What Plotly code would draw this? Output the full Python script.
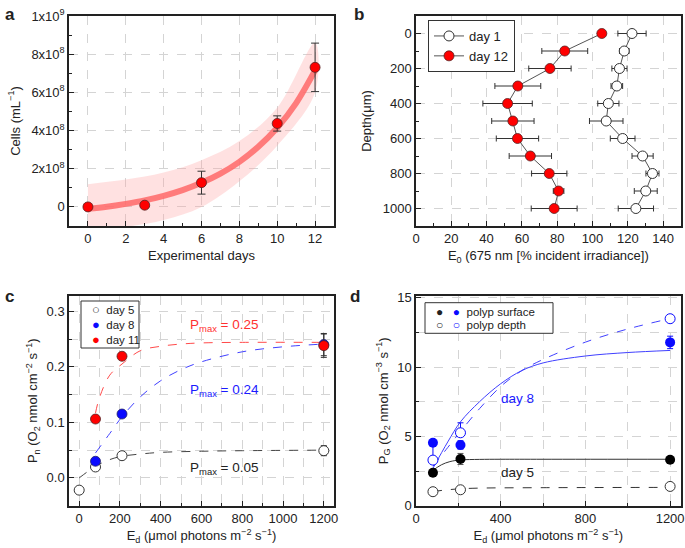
import plotly.graph_objects as go

# ---------------- Panel a data ----------------
a_days = [0, 3, 6, 10, 12]
a_cells = [0.0e8, 0.09e8, 1.27e8, 4.37e8, 7.31e8]
a_err = [0.05e8, 0.1e8, 0.6e8, 0.4e8, 1.27e8]
a_fit_days = [0, 1, 2, 3, 4, 5, 6, 7, 8, 9, 10, 11, 12]
a_fit_cells = [-0.1e8, 0.01e8, 0.16e8, 0.34e8, 0.58e8, 0.88e8, 1.26e8, 1.74e8,
               2.36e8, 3.15e8, 4.15e8, 5.44e8, 7.15e8]
a_band_days = [0, 2, 4, 6, 8, 10, 12]
a_band_upper = [1.19e8, 1.43e8, 1.8e8, 2.45e8, 3.45e8, 5.2e8, 8.6e8]
a_band_lower = [-1.3e8, -1.05e8, -0.68e8, 0.0e8, 1.35e8, 3.2e8, 6.0e8]
a_ytickvals = [0, 2e8, 4e8, 6e8, 8e8, 1e9]
a_yticktext = ["0", "2x10<sup>8</sup>", "4x10<sup>8</sup>", "6x10<sup>8</sup>",
               "8x10<sup>8</sup>", "1x10<sup>9</sup>"]

# ---------------- Panel b data ----------------
b_depth = [0, 100, 200, 300, 400, 500, 600, 700, 800, 900, 1000]
b_day1 = [122.4, 118.0, 115.3, 113.8, 109.0, 107.8, 117.1, 128.4, 134.0, 130.2, 124.6]
b_day1_err = [8.0, 2.7, 4.3, 3.3, 6.0, 9.5, 7.0, 6.0, 3.7, 6.5, 10.0]
b_day12 = [105.3, 84.3, 75.9, 57.7, 51.9, 54.9, 57.5, 64.8, 75.5, 80.8, 78.3]
b_day12_err = [0.5, 13.0, 12.0, 13.0, 14.0, 12.0, 12.0, 12.0, 10.0, 3.0, 13.0]

# ---------------- Panel c data ----------------
c_ed_day5 = [0, 80, 210, 1200]
c_day5 = [-0.022, 0.0197, 0.040, 0.049]
c_day5_err = [0.003, 0.004, 0.004, 0.009]
c_ed = [80, 210, 1200]
c_day8 = [0.030, 0.115, 0.240]
c_day8_err = [0.004, 0.004, 0.020]
c_day11 = [0.106, 0.219, 0.238]
c_day11_err = [0.004, 0.004, 0.021]
c_fit5_x = [0, 40, 80, 150, 210, 300, 400, 600, 800, 1200]
c_fit5_y = [0.0, 0.011, 0.021, 0.033, 0.039, 0.043, 0.046, 0.048, 0.049, 0.050]
c_fit8_x = [80, 150, 210, 300, 400, 500, 600, 800, 1000, 1200]
c_fit8_y = [0.045, 0.080, 0.110, 0.146, 0.175, 0.195, 0.209, 0.227, 0.236, 0.241]
c_fit11_x = [80, 100, 150, 210, 300, 400, 500, 600, 800, 1200]
c_fit11_y = [0.117, 0.145, 0.185, 0.205, 0.229, 0.237, 0.241, 0.243, 0.244, 0.244]
c_legend_names = ["day 5", "day 8", "day 11"]

# ---------------- Panel d data ----------------
d_ed = [80, 210, 1200]
d5_surf = [2.38, 3.37, 3.32]
d5_surf_err = [0.15, 0.4, 0.2]
d5_depth = [1.01, 1.15, 1.39]
d5_depth_err = [0.12, 0.12, 0.12]
d8_surf = [4.54, 4.38, 11.78]
d8_surf_err = [0.2, 0.3, 0.45]
d8_depth = [3.29, 5.26, 13.49]
d8_depth_err_plus = [1.0, 0.72, 0.25]
d8_depth_err_minus = [0.1, 0.1, 0.25]
d_fit5s_x = [80, 120, 160, 210, 300, 400, 600, 1200]
d_fit5s_y = [2.55, 2.95, 3.18, 3.3, 3.34, 3.35, 3.35, 3.35]
d_fit5d_x = [80, 150, 210, 300, 600, 1200]
d_fit5d_y = [1.02, 1.15, 1.22, 1.27, 1.30, 1.32]
d_fit8s_x = [80, 150, 210, 300, 400, 500, 600, 800, 1000, 1200]
d_fit8s_y = [2.7, 4.6, 6.05, 7.5, 8.8, 9.75, 10.3, 10.8, 11.05, 11.2]
d_fit8d_x = [80, 150, 210, 300, 400, 500, 600, 800, 1000, 1200]
d_fit8d_y = [2.85, 4.2, 5.35, 7.0, 8.6, 9.75, 10.55, 11.8, 12.75, 13.5]
d_legend_names = ["polyp surface", "polyp depth"]

FONT = "Liberation Sans, Arial, Helvetica, sans-serif"
DARK = "#333333"
GRID = "#d4d4d4"
RED = "#ff0000"
BLUE = "#0a0aff"
W, H = 685, 548


def px_x(p):
    return p / W


def px_y(p):
    return 1 - p / H


def err(vals, color=DARK, width=3, minus=None):
    d = dict(type="data", array=vals, color=color, thickness=1, width=width, visible=True)
    if minus is not None:
        d["symmetric"] = False
        d["arrayminus"] = minus
    return d


fig = go.Figure()

# ---- Panel a ----
fig.add_trace(go.Scatter(x=a_band_days + a_band_days[::-1],
                         y=a_band_upper + a_band_lower[::-1],
                         fill="toself", fillcolor="rgba(255,165,165,0.33)",
                         line=dict(width=0, shape="spline"), mode="lines",
                         showlegend=False, hoverinfo="skip", xaxis="x", yaxis="y"))
fig.add_trace(go.Scatter(x=a_fit_days, y=a_fit_cells, mode="lines",
                         line=dict(color="rgba(255,105,105,0.85)", width=6, shape="spline"),
                         showlegend=False, xaxis="x", yaxis="y"))
fig.add_trace(go.Scatter(x=a_days, y=a_cells, mode="markers",
                         marker=dict(size=10, color=RED, line=dict(color="#552222", width=0.8)),
                         error_y=err(a_err, width=4), showlegend=False, xaxis="x", yaxis="y"))

# ---- Panel b ----
fig.add_trace(go.Scatter(x=b_day1, y=b_depth, mode="lines+markers", name="day 1",
                         line=dict(color="#555555", width=1),
                         marker=dict(size=10, color="white", line=dict(color=DARK, width=1)),
                         error_x=err(b_day1_err), legend="legend2", xaxis="x2", yaxis="y2"))
fig.add_trace(go.Scatter(x=b_day12, y=b_depth, mode="lines+markers", name="day 12",
                         line=dict(color="#555555", width=1),
                         marker=dict(size=10, color=RED, line=dict(color="#552222", width=0.8)),
                         error_x=err(b_day12_err), legend="legend2", xaxis="x2", yaxis="y2"))

# ---- Panel c ----
fig.add_trace(go.Scatter(x=c_fit5_x, y=c_fit5_y, mode="lines", showlegend=False,
                         line=dict(color="#444444", width=1, dash="dash", shape="spline"),
                         xaxis="x3", yaxis="y3"))
fig.add_trace(go.Scatter(x=c_fit8_x, y=c_fit8_y, mode="lines", showlegend=False,
                         line=dict(color="#4040ff", width=1, dash="dash", shape="spline"),
                         xaxis="x3", yaxis="y3"))
fig.add_trace(go.Scatter(x=c_fit11_x, y=c_fit11_y, mode="lines", showlegend=False,
                         line=dict(color="#ff4a4a", width=1, dash="dash", shape="spline"),
                         xaxis="x3", yaxis="y3"))
fig.add_trace(go.Scatter(x=c_ed_day5, y=c_day5, mode="markers", name="day 5", showlegend=False,
                         marker=dict(size=10, color="white", line=dict(color=DARK, width=1)),
                         error_y=err(c_day5_err), xaxis="x3", yaxis="y3"))
fig.add_trace(go.Scatter(x=c_ed, y=c_day8, mode="markers", name="day 8", showlegend=False,
                         marker=dict(size=10, color=BLUE, line=dict(color="#222266", width=0.8)),
                         error_y=err(c_day8_err), xaxis="x3", yaxis="y3"))
fig.add_trace(go.Scatter(x=c_ed, y=c_day11, mode="markers", name="day 11", showlegend=False,
                         marker=dict(size=10, color=RED, line=dict(color="#552222", width=0.8)),
                         error_y=err(c_day11_err), xaxis="x3", yaxis="y3"))

# ---- Panel d ----
fig.add_trace(go.Scatter(x=d_fit5s_x, y=d_fit5s_y, mode="lines", showlegend=False,
                         line=dict(color="#333333", width=1, shape="spline"),
                         xaxis="x4", yaxis="y4"))
fig.add_trace(go.Scatter(x=d_fit5d_x, y=d_fit5d_y, mode="lines", showlegend=False,
                         line=dict(color="#333333", width=1, dash="dash", shape="spline"),
                         xaxis="x4", yaxis="y4"))
fig.add_trace(go.Scatter(x=d_fit8s_x, y=d_fit8s_y, mode="lines", showlegend=False,
                         line=dict(color="#4040ff", width=1, shape="spline"),
                         xaxis="x4", yaxis="y4"))
fig.add_trace(go.Scatter(x=d_fit8d_x, y=d_fit8d_y, mode="lines", showlegend=False,
                         line=dict(color="#4040ff", width=1, dash="dash", shape="spline"),
                         xaxis="x4", yaxis="y4"))
fig.add_trace(go.Scatter(x=d_ed, y=d5_depth, mode="markers", showlegend=False,
                         marker=dict(size=10, color="white", line=dict(color=DARK, width=1)),
                         error_y=err(d5_depth_err), xaxis="x4", yaxis="y4"))
fig.add_trace(go.Scatter(x=d_ed, y=d5_surf, mode="markers", showlegend=False,
                         marker=dict(size=10, color="black"),
                         error_y=err(d5_surf_err, color="#555555"), xaxis="x4", yaxis="y4"))
fig.add_trace(go.Scatter(x=d_ed, y=d8_depth, mode="markers", showlegend=False,
                         marker=dict(size=10, color="white", line=dict(color=BLUE, width=1)),
                         error_y=err(d8_depth_err_plus, color=BLUE, minus=d8_depth_err_minus),
                         xaxis="x4", yaxis="y4"))
fig.add_trace(go.Scatter(x=d_ed, y=d8_surf, mode="markers", showlegend=False,
                         marker=dict(size=10, color=BLUE),
                         error_y=err(d8_surf_err, color=BLUE), xaxis="x4", yaxis="y4"))


def axis(domain, rng, dtick, minor_dtick, anchor, minor_grid=False, **kw):
    d = dict(domain=domain, range=rng, anchor=anchor, dtick=dtick, tick0=0,
             showline=True, linecolor="#222222", linewidth=1.5, mirror=True,
             ticks="inside", ticklen=5, tickwidth=1.2, tickcolor="#222222",
             showgrid=True, gridcolor=GRID, griddash="dash", gridwidth=1,
             zeroline=False, tickfont=dict(size=13, color="#222222", family=FONT),
             minor=dict(dtick=minor_dtick, tick0=0, ticks="inside", ticklen=3,
                        tickwidth=1.2, tickcolor="#222222", showgrid=minor_grid,
                        gridcolor=GRID, griddash="dash", gridwidth=1),
             automargin=False)
    d.update(kw)
    return d


xa_dom = [px_x(69), px_x(334)]
xb_dom = [px_x(416), px_x(680.7)]
ytop_dom = [px_y(226), px_y(16)]
ybot_dom = [px_y(505.7), px_y(295.7)]

title_font = dict(size=13, color="#222222", family=FONT)

fig.update_layout(
    width=W, height=H,
    margin=dict(l=0, r=0, t=0, b=0),
    paper_bgcolor="white", plot_bgcolor="white",
    font=dict(family=FONT, size=13, color="#222222"),
    xaxis=axis(xa_dom, [-1, 13], 2, 1, "y",
               title=dict(text="Experimental days", font=title_font, standoff=6)),
    yaxis=axis(ytop_dom, [-1e8, 1e9], 2e8, 1e8, "x", tickmode="array",
               tickvals=a_ytickvals, ticktext=a_yticktext,
               title=dict(text="Cells (mL<sup>−1</sup>)", font=title_font, standoff=8)),
    xaxis2=axis(xb_dom, [0, 150], 20, 10, "y2",
                title=dict(text="E<sub>0</sub> (675 nm [% incident irradiance])",
                           font=title_font, standoff=6)),
    yaxis2=axis(ytop_dom, [1100, -100], 200, 100, "x2",
                title=dict(text="Depth(μm)", font=title_font, standoff=8)),
    xaxis3=axis(xa_dom, [-50, 1250], 200, 100, "y3", minor_grid=True,
                title=dict(text="E<sub>d</sub> (μmol photons m<sup>−2</sup> s<sup>−1</sup>)",
                           font=title_font, standoff=6)),
    yaxis3=axis(ybot_dom, [-0.05, 0.328], 0.1, 0.05, "x3", minor_grid=True, tickformat=".1f",
                title=dict(text="P<sub>n</sub> (O<sub>2</sub> nmol cm<sup>−2</sup> s<sup>−1</sup>)",
                           font=title_font, standoff=6)),
    xaxis4=axis(xb_dom, [0, 1250], 400, 200, "y4", minor_grid=True,
                title=dict(text="E<sub>d</sub> (μmol photons m<sup>−2</sup> s<sup>−1</sup>)",
                           font=title_font, standoff=6)),
    yaxis4=axis(ybot_dom, [0, 15.15], 5, 2.5, "x4", minor_grid=True,
                title=dict(text="P<sub>G</sub> (O<sub>2</sub> nmol cm<sup>−3</sup> s<sup>−1</sup>)",
                           font=title_font, standoff=6)),
    legend2=dict(x=px_x(428), y=px_y(20), xanchor="left", yanchor="top",
                 bordercolor="#333333", borderwidth=1, bgcolor="white",
                 font=dict(size=13, family=FONT, color="#222222")),
    showlegend=True,
)

annotations = [
    dict(text="<b>a</b>", x=px_x(3), y=px_y(3), xanchor="left", yanchor="top", font=dict(size=17)),
    dict(text="<b>b</b>", x=px_x(352), y=px_y(3), xanchor="left", yanchor="top", font=dict(size=17)),
    dict(text="<b>c</b>", x=px_x(3), y=px_y(285), xanchor="left", yanchor="top", font=dict(size=17)),
    dict(text="<b>d</b>", x=px_x(348), y=px_y(285), xanchor="left", yanchor="top", font=dict(size=17)),
]
for a in annotations:
    a.update(xref="paper", yref="paper", showarrow=False)

data_ann = [
    dict(text="P<sub>max</sub> = 0.25", x=712, y=0.275, font=dict(size=13.5, color="#ff3030"),
         xref="x3", yref="y3"),
    dict(text="P<sub>max</sub> = 0.24", x=712, y=0.158, font=dict(size=13.5, color="#1a1aff"),
         xref="x3", yref="y3"),
    dict(text="P<sub>max</sub> = 0.05", x=712, y=0.017, font=dict(size=13.5, color="#222222"),
         xref="x3", yref="y3"),
    dict(text="day 8", x=481, y=7.76, font=dict(size=13.5, color="#1a1aff"), xref="x4", yref="y4"),
    dict(text="day 5", x=481, y=2.4, font=dict(size=13.5, color="#222222"), xref="x4", yref="y4"),
]
for a in data_ann:
    a.update(showarrow=False)

# ---- hand-made legends for panels c and d (text glyphs + frame) ----
legend_ann = []
GC = 'font-size:13px'
c_rows = [("○", "#333333"), ("●", "#0a0aff"), ("●", "#ff0000")]
c_row_y = [309, 324, 339]
for (glyph, col), name, yy in zip(c_rows, c_legend_names, c_row_y):
    legend_ann.append(dict(
        text=f'<span style="{GC};color:{col}">{glyph}</span>\u00a0\u00a0{name}',
        x=px_x(90), y=px_y(yy), xanchor="left", yanchor="middle"))

GD = 'font-size:12px'
d_rows = [("●", "●"), ("○", "○")]
d_row_y = [311.5, 325]
for (g1, g2), name, yy in zip(d_rows, d_legend_names, d_row_y):
    legend_ann.append(dict(
        text=(f'<span style="{GD};color:#222222">{g1}</span>\u00a0\u00a0\u00a0'
              f'<span style="{GD};color:#0a0aff">{g2}</span>\u00a0\u00a0{name}'),
        x=px_x(434), y=px_y(yy), xanchor="left", yanchor="middle"))
for a in legend_ann:
    a.update(xref="paper", yref="paper", showarrow=False, align="left",
             font=dict(size=11.5, color="#222222", family=FONT))

shapes = [
    dict(type="rect", xref="paper", yref="paper", x0=px_x(81), x1=px_x(139),
         y0=px_y(348), y1=px_y(301), line=dict(color="#333333", width=1),
         fillcolor="white", layer="above"),
    dict(type="rect", xref="paper", yref="paper", x0=px_x(425), x1=px_x(553),
         y0=px_y(333.3), y1=px_y(302.7), line=dict(color="#333333", width=1),
         fillcolor="white", layer="above"),
]

fig.update_layout(annotations=annotations + data_ann + legend_ann, shapes=shapes)

fig.write_html("out.html", config={"displayModeBar": False},
               post_script="document.body.style.margin='0px';")
